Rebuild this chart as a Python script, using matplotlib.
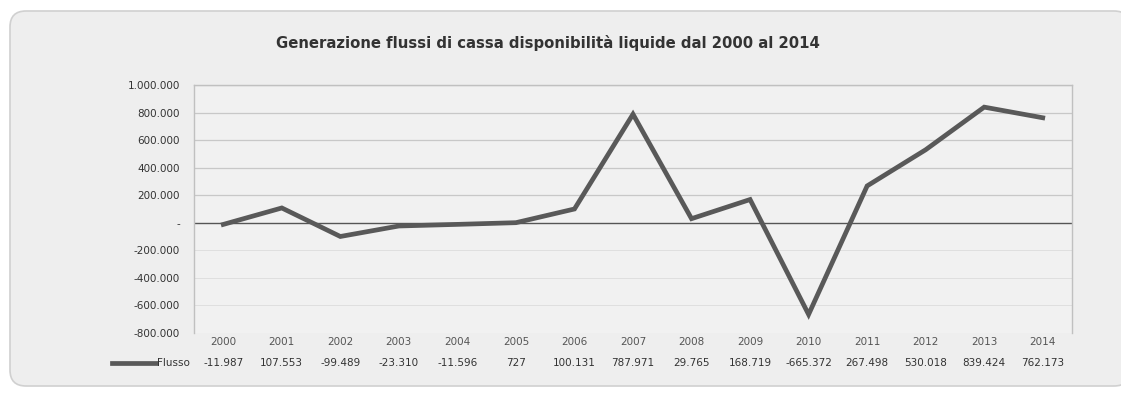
import matplotlib
matplotlib.use("Agg")
import matplotlib.pyplot as plt
from matplotlib.patches import FancyBboxPatch
import matplotlib.transforms as mtransforms

years = ["2000", "2001", "2002", "2003", "2004", "2005", "2006", "2007",
         "2008", "2009", "2010", "2011", "2012", "2013", "2014"]
flusso = [-11987, 107553, -99489, -23310, -11596, 727, 100131, 787971,
          29765, 168719, -665372, 267498, 530018, 839424, 762173]
value_labels = ["-11.987", "107.553", "-99.489", "-23.310", "-11.596", "727",
                "100.131", "787.971", "29.765", "168.719", "-665.372",
                "267.498", "530.018", "839.424", "762.173"]
yticks = [1000000, 800000, 600000, 400000, 200000, 0, -200000, -400000,
          -600000, -800000]
ytick_labels = ["1.000.000", "800.000", "600.000", "400.000", "200.000", "-",
                "-200.000", "-400.000", "-600.000", "-800.000"]
title = "Generazione flussi di cassa disponibilità liquide dal 2000 al 2014"
series_name = "Flusso"

W, H = 1121, 407
fig = plt.figure(figsize=(W / 100, H / 100), dpi=100)
fig.patch.set_facecolor("white")

# background panel
bg = fig.add_axes([0, 0, 1, 1], zorder=-10)
bg.set_xlim(0, W)
bg.set_ylim(H, 0)
bg.axis("off")
panel = FancyBboxPatch((10, 11), 1120, 375,
                       boxstyle="round,pad=0,rounding_size=16",
                       facecolor="#eeeeee", edgecolor="#d0d0d0", linewidth=1.2)
bg.add_patch(panel)

left, right, top, bottom = 194, 1072, 85, 333
ax = fig.add_axes([left / W, 1 - bottom / H, (right - left) / W, (bottom - top) / H])
ax.set_facecolor("#f1f1f1")

x = list(range(len(years)))
ax.plot(x, flusso, color="#595959", linewidth=3.4, solid_joinstyle="miter",
        zorder=3)
ax.set_xlim(-0.5, len(years) - 0.5)
ax.set_ylim(-800000, 1000000)
ax.set_yticks(yticks)
ax.set_yticklabels(ytick_labels, fontsize=7.5, color="#333333")
ax.tick_params(axis="y", length=0, pad=10)
ax.set_xticks([])
for yv in yticks:
    if yv == 0:
        ax.axhline(yv, color="#555555", linewidth=1.0, zorder=2)
    elif yv > 0:
        ax.axhline(yv, color="#c8c8c8", linewidth=0.9, zorder=1)
    else:
        ax.axhline(yv, color="#dcdcdc", linewidth=0.6, zorder=1)
for side in ["left", "right", "top"]:
    ax.spines[side].set_color("#c0c0c0")
    ax.spines[side].set_linewidth(1.0)
ax.spines["bottom"].set_visible(False)

trans = mtransforms.blended_transform_factory(ax.transData, ax.transAxes)
y_year = -(342 - bottom) / (bottom - top)
y_val = -(363 - bottom) / (bottom - top)
for xi, yr, vl in zip(x, years, value_labels):
    ax.text(xi, y_year, yr, transform=trans, ha="center", va="center",
            fontsize=7.5, color="#555555", clip_on=False)
    ax.text(xi, y_val, vl, transform=trans, ha="center", va="center",
            fontsize=7.5, color="#333333", clip_on=False)

bg.text(190, 363, series_name, ha="right", va="center", fontsize=7.5,
        color="#333333")
bg.plot([112, 156], [363, 363], color="#595959", linewidth=3.4)

bg.text(548, 43, title, ha="center", va="center", fontsize=10.7,
        fontweight="bold", color="#333333")

fig.savefig("out.png", dpi=100)
